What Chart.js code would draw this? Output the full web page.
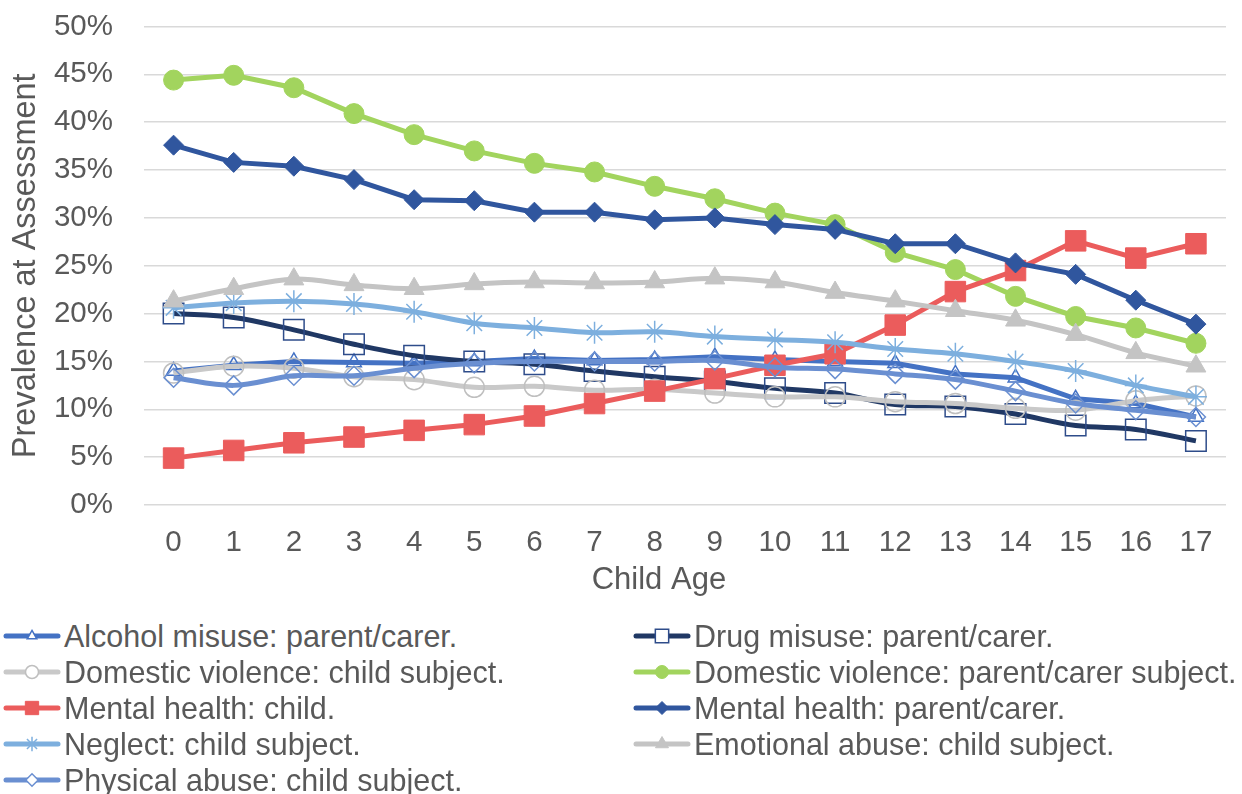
<!DOCTYPE html>
<html>
<head>
<meta charset="utf-8">
<script src="https://cdn.jsdelivr.net/npm/chart.js@4.4.0/dist/chart.umd.min.js"></script>
<style>
  body { margin: 0; background: #fff; }
  #wrap { position: relative; width: 1242px; height: 794px; overflow: hidden; font-family: Arial, "Liberation Sans", sans-serif; }
  #chartBox { position: absolute; left: 0; top: 0; width: 1242px; height: 612px; }
  #legend { position: absolute; left: 0; top: 618px; width: 1242px; display: grid; grid-template-columns: 630px 612px; grid-auto-rows: 36px; }
  .item { display: flex; align-items: center; white-space: nowrap; font-size: 30.5px; color: #595959; padding-left: 3px; }
  .item canvas { margin-right: 3px; flex: none; }
</style>
</head>
<body>
<div id="wrap">
  <div id="chartBox"><canvas id="prevChart"></canvas></div>
  <div id="legend"></div>
</div>
<script>
// dane (% przy ocenie)
const ages = ["0", "1", "2", "3", "4", "5", "6", "7", "8", "9", "10", "11", "12", "13", "14", "15", "16", "17"];
const alcoholMisuse = [14.0, 14.6, 15.0, 14.9, 14.8, 15.0, 15.3, 15.1, 15.2, 15.5, 15.2, 15.0, 14.8, 13.7, 13.3, 11.1, 10.6, 9.2];
const drugMisuse = [20.0, 19.6, 18.3, 16.8, 15.6, 15.0, 14.7, 14.0, 13.4, 12.9, 12.2, 11.7, 10.5, 10.3, 9.5, 8.3, 7.9, 6.7];
const dvChild = [13.8, 14.5, 14.3, 13.4, 13.1, 12.3, 12.4, 12.0, 12.1, 11.7, 11.3, 11.3, 10.8, 10.6, 10.1, 9.9, 10.9, 11.4];
const dvParent = [44.4, 44.9, 43.6, 40.9, 38.7, 37.0, 35.7, 34.8, 33.3, 32.0, 30.5, 29.3, 26.4, 24.6, 21.8, 19.7, 18.5, 16.9];
const mhChild = [4.9, 5.7, 6.5, 7.1, 7.8, 8.4, 9.3, 10.6, 11.9, 13.2, 14.6, 15.8, 18.8, 22.3, 24.5, 27.6, 25.8, 27.3];
const mhParent = [37.6, 35.8, 35.4, 34.0, 31.9, 31.8, 30.6, 30.6, 29.8, 30.0, 29.3, 28.8, 27.3, 27.3, 25.3, 24.1, 21.4, 18.9];
const neglect = [20.6, 21.1, 21.3, 21.0, 20.2, 19.0, 18.5, 18.0, 18.1, 17.6, 17.3, 17.0, 16.3, 15.8, 15.0, 14.0, 12.5, 11.3];
const emotionalAbuse = [21.3, 22.6, 23.6, 23.0, 22.6, 23.1, 23.3, 23.2, 23.3, 23.7, 23.3, 22.2, 21.3, 20.3, 19.3, 17.8, 15.9, 14.5];
const physicalAbuse = [13.3, 12.5, 13.5, 13.5, 14.3, 14.8, 15.0, 15.0, 15.0, 15.1, 14.4, 14.2, 13.7, 13.1, 11.9, 10.6, 9.9, 9.2];

const seriesNames = [
  "Alcohol misuse: parent/carer.",
  "Drug misuse: parent/carer.",
  "Domestic violence: child subject.",
  "Domestic violence: parent/carer subject.",
  "Mental health: child.",
  "Mental health: parent/carer.",
  "Neglect: child subject.",
  "Emotional abuse: child subject.",
  "Physical abuse: child subject.",
];
const seriesData = [alcoholMisuse, drugMisuse, dvChild, dvParent, mhChild, mhParent, neglect, emotionalAbuse, physicalAbuse];

const styles = [
  { color: "#4472C4", marker: "#4472C4", point: "triangle", r: 8.5, fill: false, tension: 0 },
  { color: "#203864", marker: "#2E4C8A", point: "rect", r: 14.5, fill: false, tension: 0.35 },
  { color: "#C9C9C9", marker: "#BFBFBF", point: "circle", r: 10, fill: false, tension: 0.35 },
  { color: "#A2D45E", marker: "#A2D45E", point: "circle", r: 10, fill: true, tension: 0 },
  { color: "#EB5C5C", marker: "#EB5C5C", point: "rect", r: 14.5, fill: true, tension: 0 },
  { color: "#30569E", marker: "#30569E", point: "rectRot", r: 10, fill: true, tension: 0 },
  { color: "#7DAFDE", marker: "#7DAFDE", point: "star", r: 11, fill: false, tension: 0.35 },
  { color: "#C4C4C4", marker: "#C4C4C4", point: "triangle", r: 11.5, fill: true, tension: 0.35 },
  { color: "#6A8FD1", marker: "#6A8FD1", point: "rectRot", r: 9.5, fill: false, tension: 0.35 },
];

const textColor = "#595959";
const fontFamily = 'Arial, "Liberation Sans", sans-serif';

const datasets = seriesData.map((data, idx) => {
  const s = styles[idx];
  return {
    label: seriesNames[idx],
    data: data,
    borderColor: s.color,
    backgroundColor: s.color,
    borderWidth: 5,
    tension: s.tension,
    pointStyle: s.point,
    pointRadius: s.r,
    pointHoverRadius: s.r,
    pointBorderColor: s.marker,
    pointBackgroundColor: s.fill ? s.marker : "rgba(255,255,255,0)",
    pointBorderWidth: s.fill ? 1 : 1.5,
    order: seriesData.length - idx, // ostatnia seria na wierzchu jak w Excelu
  };
});

const ctx = document.getElementById("prevChart").getContext("2d");
new Chart(ctx, {
  type: "line",
  data: { labels: ages, datasets: datasets },
  options: {
    responsive: true,
    maintainAspectRatio: false,
    animation: false,
    layout: { padding: { top: 26.5, right: 1.5, left: 0, bottom: 0 } },
    plugins: {
      legend: { display: false },
      tooltip: { enabled: false },
    },
    scales: {
      x: {
        offset: true,
        grid: { display: true, drawOnChartArea: false, drawTicks: true, tickLength: 20, tickColor: "rgba(0,0,0,0)" },
        border: { display: false },
        ticks: {
          color: textColor,
          padding: 0,
          maxRotation: 0,
          font: { family: fontFamily, size: 29.5 },
        },
        title: {
          display: true,
          text: "Child Age\u00A0\u00A0\u00A0\u00A0\u00A0\u00A0",
          color: textColor,
          padding: { top: 0, bottom: 13 },
          font: { family: fontFamily, size: 31 },
        },
        afterFit: (scale) => { scale.height = 107; },
      },
      y: {
        min: 0,
        max: 50,
        grid: { color: "#D9D9D9", lineWidth: 1.5, drawTicks: true, tickLength: 30.5, tickColor: "rgba(0,0,0,0)" },
        border: { display: false },
        ticks: {
          stepSize: 5,
          color: textColor,
          padding: 0,
          font: { family: fontFamily, size: 29.5 },
          callback: (v) => v + "%",
        },
        title: {
          display: true,
          text: "Prevalence at Assessment",
          color: textColor,
          padding: { top: 7, bottom: 0 },
          font: { family: fontFamily, size: 32.5 },
        },
        afterFit: (scale) => { scale.width = 143.5; },
      },
    },
  },
});

// legenda w dwóch kolumnach
function drawMarker(c, s, x, y, r) {
  if (Chart.helpers && Chart.helpers.drawPoint) {
    Chart.helpers.drawPoint(c, { pointStyle: s.point, radius: r, rotation: 0, borderWidth: c.lineWidth }, x, y);
    return;
  }
  c.beginPath();
  c.arc(x, y, r, 0, Math.PI * 2);
  c.fill();
  c.stroke();
}

const legendEl = document.getElementById("legend");
seriesNames.forEach((name, idx) => {
  const s = styles[idx];
  const item = document.createElement("div");
  item.className = "item";
  const cv = document.createElement("canvas");
  cv.width = 58;
  cv.height = 36;
  const c = cv.getContext("2d");
  c.strokeStyle = s.color;
  c.lineWidth = 5;
  c.lineCap = "round";
  c.beginPath();
  c.moveTo(3, 18);
  c.lineTo(55, 18);
  c.stroke();
  c.lineCap = "butt";
  c.strokeStyle = s.marker;
  c.fillStyle = s.fill ? s.marker : "#ffffff";
  c.lineWidth = s.fill ? 1 : 1.5;
  drawMarker(c, s, 29, 18, s.r * 0.65);
  const span = document.createElement("span");
  span.textContent = name;
  item.appendChild(cv);
  item.appendChild(span);
  legendEl.appendChild(item);
});
</script>
</body>
</html>
